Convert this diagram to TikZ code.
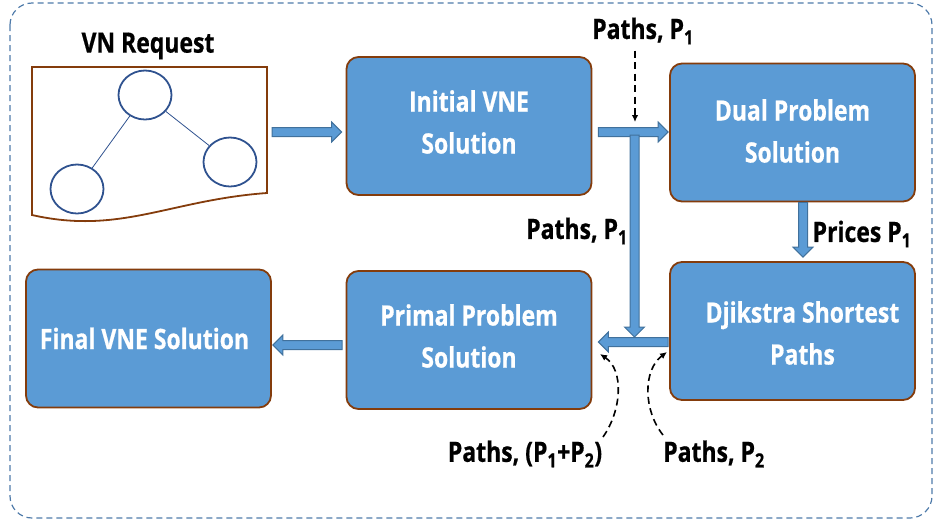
\documentclass[tikz,border=0pt]{standalone}
\usepackage{fontspec}
\setmainfont{Open Sans}[FakeStretch=0.82,FakeBold=0.6]
\usetikzlibrary{shapes.geometric,arrows.meta,calc}
\definecolor{boxblue}{HTML}{5B9BD5}
\definecolor{boxbrown}{HTML}{843C0C}
\definecolor{arrline}{HTML}{41719C}
\definecolor{nodeblue}{HTML}{2F528F}
\definecolor{frameblue}{HTML}{4F7BAA}
% horizontal block arrow from #1 to tip #2
\newcommand{\BAh}[2]{\path[barrow] let \p1=#1, \p2=#2, \n1={sign(\x2-\x1)} in
  (\x1,\y1+4.5pt) -- (\x2-\n1*10pt,\y1+4.5pt) -- (\x2-\n1*10pt,\y1+10pt) -- (\x2,\y1)
  -- (\x2-\n1*10pt,\y1-10pt) -- (\x2-\n1*10pt,\y1-4.5pt) -- (\x1,\y1-4.5pt) -- cycle;}
% vertical block arrow from #1 to tip #2
\newcommand{\BAv}[2]{\path[barrow] let \p1=#1, \p2=#2, \n1={sign(\y2-\y1)} in
  (\x1-4.5pt,\y1) -- (\x1-4.5pt,\y2-\n1*10pt) -- (\x1-10pt,\y2-\n1*10pt) -- (\x1,\y2)
  -- (\x1+10pt,\y2-\n1*10pt) -- (\x1+4.5pt,\y2-\n1*10pt) -- (\x1+4.5pt,\y1) -- cycle;}
\begin{document}
\begin{tikzpicture}[x=1pt,y=-1pt,
  stagebox/.style={draw=boxbrown,line width=1.8pt,fill=boxblue,rounded corners=12pt,
    minimum width=245pt,minimum height=138pt,inner sep=0pt},
  boxtext/.style={text=white,align=center,inner sep=0pt,
    font=\fontsize{28}{42}\selectfont\bfseries},
  lbl/.style={text=black,inner sep=0pt,font=\fontsize{28}{34}\selectfont\bfseries},
  barrow/.style={draw=arrline,line width=1pt,fill=boxblue},
  vnnode/.style={draw=nodeblue,line width=1.8pt,ellipse,minimum width=53pt,minimum height=49pt,inner sep=0pt},
  dasharrow/.style={draw=black,line width=1.6pt,dash pattern=on 7pt off 4.5pt,-{Latex[length=7pt,width=6.5pt]}}]
\useasboundingbox (0,0) rectangle (935,523);
% outer dashed frame
\draw[frameblue,line width=1.2pt,dash pattern=on 6pt off 4pt,rounded corners=22pt] (10,3) rectangle (932,518);
% VN request document
\draw[boxbrown,line width=1.8pt] (32,67) -- (267,67) -- (267,193)
  .. controls (170,200) and (120,235) .. (32,215) -- cycle;
\node[lbl] (vnlabel) at (148,46) {VN Request};
\node[vnnode] (n1) at (145,95) {};
\node[vnnode] (n2) at (77,189) {};
\node[vnnode] (n3) at (230,162) {};
\draw[nodeblue,line width=0.8pt] (n1) -- (n2);
\draw[nodeblue,line width=0.8pt] (n1) -- (n3);
% stage boxes
\node[stagebox] (init) at (469,126) {};
\node[boxtext] at ([yshift=4pt]init.center) {Initial VNE\\Solution};
\node[stagebox] (dual) at (792.5,132.5) {};
\node[boxtext] at ([yshift=1.5pt]dual.center) {Dual Problem\\Solution};
\node[stagebox] (dijk) at (792.5,331) {};
\node[boxtext] at ([xshift=10pt,yshift=-2pt]dijk.center) {Djikstra Shortest\\Paths};
\node[stagebox] (primal) at (469,340) {};
\node[boxtext] at ([yshift=4pt]primal.center) {Primal Problem\\Solution};
\node[stagebox] (final) at (148.5,338.5) {};
\node[boxtext] at ([xshift=-4pt]final.center) {Final VNE Solution};
% block arrows
\coordinate (a1s) at (272,132);
\BAh{(a1s)}{($(init.west |- a1s)+(-4,0)$)}
\BAh{($(init.east |- a1s)+(6,0)$)}{($(dual.west |- a1s)+(-1,0)$)}
\coordinate (j1) at (634.5,135);
\coordinate (j2) at (634.5,342);
\BAv{(j1)}{($(j2)+(0,-5)$)}
\BAv{($(dual.south)+(10.5,0)$)}{($(dijk.north)+(10.5,-4)$)}
\BAh{($(dijk.west |- j2)+(-1,0)$)}{($(primal.east |- j2)+(6,0)$)}
\coordinate (a6) at (342,345);
\BAh{(a6)}{($(final.east |- a6)+(1,0)$)}
% labels
\node[lbl] (ptop) at (643,31) {Paths, P\textsubscript{1}};
\node[lbl] (pmid) at (577,231) {Paths, P\textsubscript{1}};
\node[lbl] (prices) at (862,234) {Prices P\textsubscript{1}};
\node[lbl] (p12) at (525,454) {Paths, (P\textsubscript{1}+P\textsubscript{2})};
\node[lbl] (p2) at (714,454) {Paths, P\textsubscript{2}};
% dashed arrows
\coordinate (d1e) at (635,122);
\draw[dasharrow] (d1e |- ptop.south) ++(0,6) -- (d1e);
\coordinate (c1s) at (603,437);
\coordinate (c1e) at (600,354);
\draw[dasharrow] (c1s) .. controls (622,410) and (624,370) .. (c1e);
\coordinate (c2s) at (663,435);
\coordinate (c2e) at (667,352);
\draw[dasharrow] (c2s) .. controls (643,410) and (643,370) .. (c2e);
\end{tikzpicture}
\end{document}
